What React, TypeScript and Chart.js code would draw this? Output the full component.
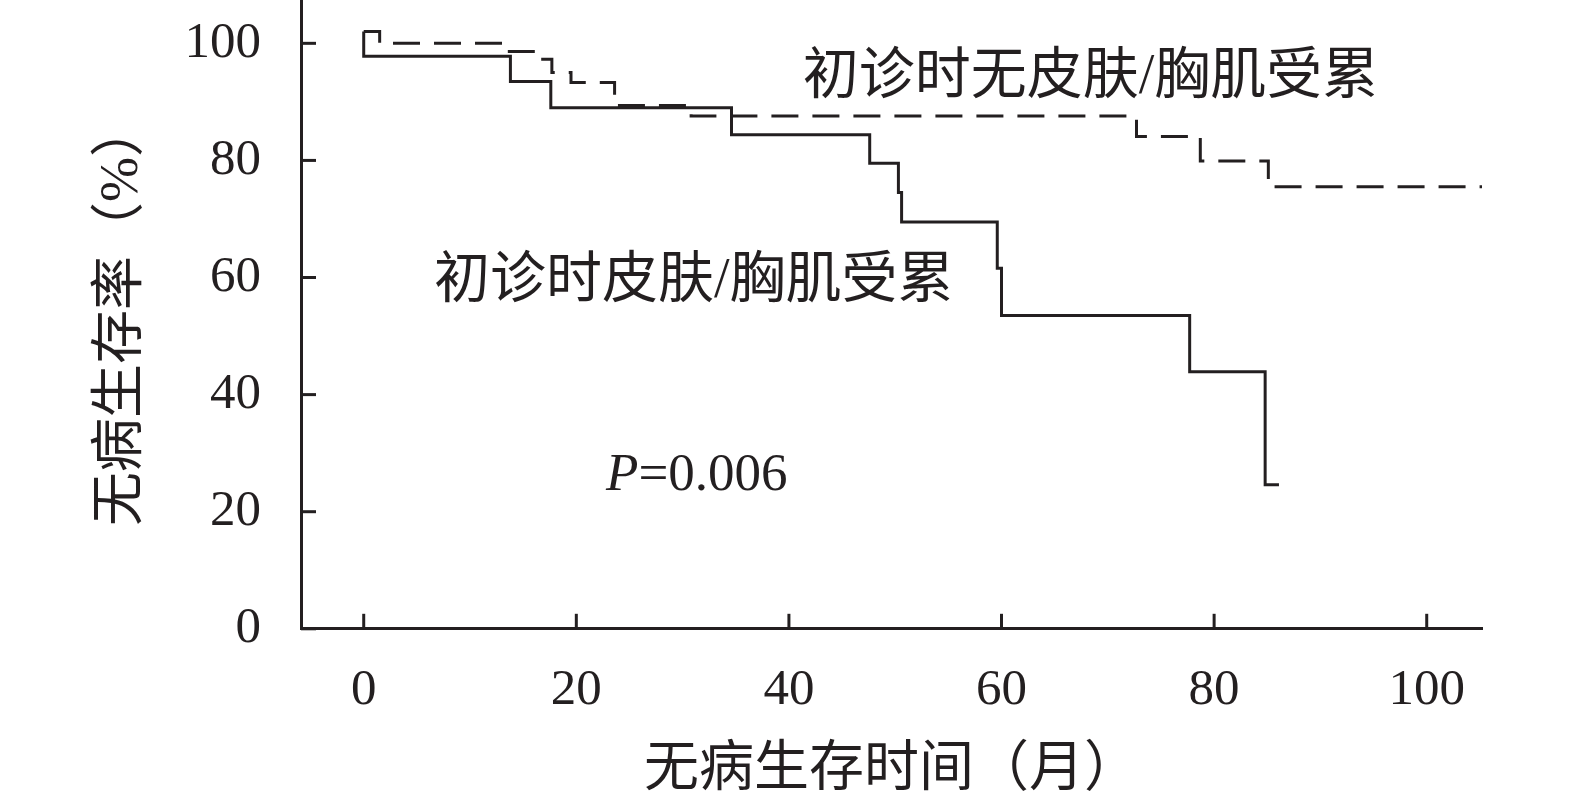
import React, { useEffect, useRef } from "react";
import { Chart, registerables } from "chart.js";

Chart.register(...registerables);

// ---- data ----
const xTickValues = [0, 20, 40, 60, 80, 100];
const yTickValues = [0, 20, 40, 60, 80, 100];

// 初诊时皮肤/胸肌受累 (solid line)
const skinTimes = [0, 0, 13.8, 17.6, 34.6, 47.6, 50.3, 50.6, 59.6, 60.0, 77.7, 84.8, 86.1];
const skinSurvival = [102, 97.8, 93.5, 89.0, 84.4, 79.5, 74.5, 69.5, 61.6, 53.5, 43.9, 24.6, 24.6];

// 初诊时无皮肤/胸肌受累 (dashed line)
const noSkinTimes = [0, 1.5, 13.5, 16.6, 17.7, 19.5, 23.6, 30.8, 72.7, 78.7, 85.1, 105.2];
const noSkinSurvival = [102, 100, 98.6, 97.3, 95.0, 93.3, 89.4, 87.6, 84.1, 79.9, 75.5, 75.5];

const xTitle = "无病生存时间（月）";
const yTitle = "无病生存率（%）";
const labelNoSkin = "初诊时无皮肤/胸肌受累";
const labelSkin = "初诊时皮肤/胸肌受累";
const pValueText = "=0.006";

// ---- style ----
const INK = "#231f20";
const SERIF = '"Liberation Serif", "Times New Roman", serif';
const CJK = '"Liberation Serif", "Noto Sans CJK SC", sans-serif';
const LINE_W = 3;

// annotation placement (in data units)
const annotations = [
  { text: labelNoSkin, x: 41.3, y: 94.0, size: 56 },
  { text: labelSkin, x: 6.6, y: 59.1, size: 56 },
];
const pLabelPos = { x: 22.8, y: 23.7, size: 53 };

const inwardTicks = {
  id: "inwardTicks",
  afterDraw(chart: any) {
    const { ctx, scales } = chart;
    const xs = scales.x;
    const ys = scales.y;
    ctx.save();
    ctx.strokeStyle = INK;
    ctx.lineWidth = LINE_W;
    ctx.lineCap = "butt";
    for (const v of xTickValues) {
      const px = xs.getPixelForValue(v);
      ctx.beginPath();
      ctx.moveTo(px, xs.top);
      ctx.lineTo(px, xs.top - 15);
      ctx.stroke();
    }
    for (const v of yTickValues) {
      const py = ys.getPixelForValue(v);
      ctx.beginPath();
      ctx.moveTo(ys.right, py);
      ctx.lineTo(ys.right + 15, py);
      ctx.stroke();
    }
    ctx.restore();
  },
};

const textLabels = {
  id: "textLabels",
  afterDraw(chart: any) {
    const { ctx, scales } = chart;
    const xs = scales.x;
    const ys = scales.y;
    ctx.save();
    ctx.fillStyle = INK;
    ctx.textBaseline = "middle";
    ctx.textAlign = "left";
    for (const a of annotations) {
      ctx.font = `${a.size}px ${CJK}`;
      ctx.fillText(a.text, xs.getPixelForValue(a.x), ys.getPixelForValue(a.y));
    }
    ctx.textBaseline = "alphabetic";
    const px = xs.getPixelForValue(pLabelPos.x);
    const py = ys.getPixelForValue(pLabelPos.y);
    ctx.font = `italic ${pLabelPos.size}px ${SERIF}`;
    ctx.fillText("P", px, py);
    const w = ctx.measureText("P").width;
    ctx.font = `${pLabelPos.size}px ${SERIF}`;
    ctx.fillText(pValueText, px + w, py);
    ctx.restore();
  },
};

export default function App() {
  const ref = useRef<HTMLCanvasElement | null>(null);

  useEffect(() => {
    if (!ref.current) return;
    const chart = new Chart(ref.current, {
      type: "line",
      data: {
        datasets: [
          {
            data: noSkinTimes.map((t, i) => ({ x: t, y: noSkinSurvival[i] })),
            borderColor: INK,
            borderWidth: LINE_W,
            borderDash: [27, 14],
            stepped: true,
            pointRadius: 0,
            fill: false,
          },
          {
            data: skinTimes.map((t, i) => ({ x: t, y: skinSurvival[i] })),
            borderColor: INK,
            borderWidth: LINE_W,
            stepped: true,
            pointRadius: 0,
            fill: false,
          },
        ],
      },
      options: {
        responsive: false,
        animation: false,
        devicePixelRatio: 1,
        layout: { padding: { left: 0, top: 0, right: 93, bottom: 0 } },
        plugins: {
          legend: { display: false },
          tooltip: { enabled: false },
        },
        scales: {
          x: {
            type: "linear",
            position: "bottom",
            min: -5.9,
            max: 105.2,
            afterBuildTicks: (s: any) => {
              s.ticks = xTickValues.map((v) => ({ value: v }));
            },
            afterFit: (s: any) => {
              s.height = 182.2;
              s.paddingLeft = 0;
              s.paddingRight = 0;
            },
            grid: { display: false, drawTicks: false, drawOnChartArea: false },
            border: { display: true, color: INK, width: LINE_W },
            ticks: {
              color: INK,
              font: { family: SERIF, size: 51 },
              padding: 31,
              maxRotation: 0,
              autoSkip: false,
            },
            title: {
              display: true,
              text: xTitle,
              color: INK,
              font: { family: CJK, size: 55, lineHeight: 1 },
              padding: { top: 0, bottom: 13 },
            },
          },
          y: {
            type: "linear",
            position: "left",
            min: 0,
            max: 107.4,
            afterBuildTicks: (s: any) => {
              s.ticks = yTickValues.map((v) => ({ value: v }));
            },
            afterFit: (s: any) => {
              s.width = 301;
              s.paddingTop = 0;
              s.paddingBottom = 0;
            },
            grid: { display: false, drawTicks: false, drawOnChartArea: false },
            border: { display: true, color: INK, width: LINE_W },
            ticks: {
              color: INK,
              font: { family: SERIF, size: 51 },
              padding: 40,
              autoSkip: false,
            },
            title: {
              display: true,
              text: yTitle,
              color: INK,
              font: { family: CJK, size: 54, lineHeight: 1 },
              padding: { top: 96, bottom: 0 },
            },
          },
        },
      },
      plugins: [inwardTicks, textLabels],
    } as any);
    return () => chart.destroy();
  }, []);

  return (
    <div style={{ position: "absolute", left: 0, top: 0, width: 1575, height: 811, background: "#fff" }}>
      <canvas ref={ref} width={1575} height={811} style={{ display: "block", width: 1575, height: 811 }} />
    </div>
  );
}
